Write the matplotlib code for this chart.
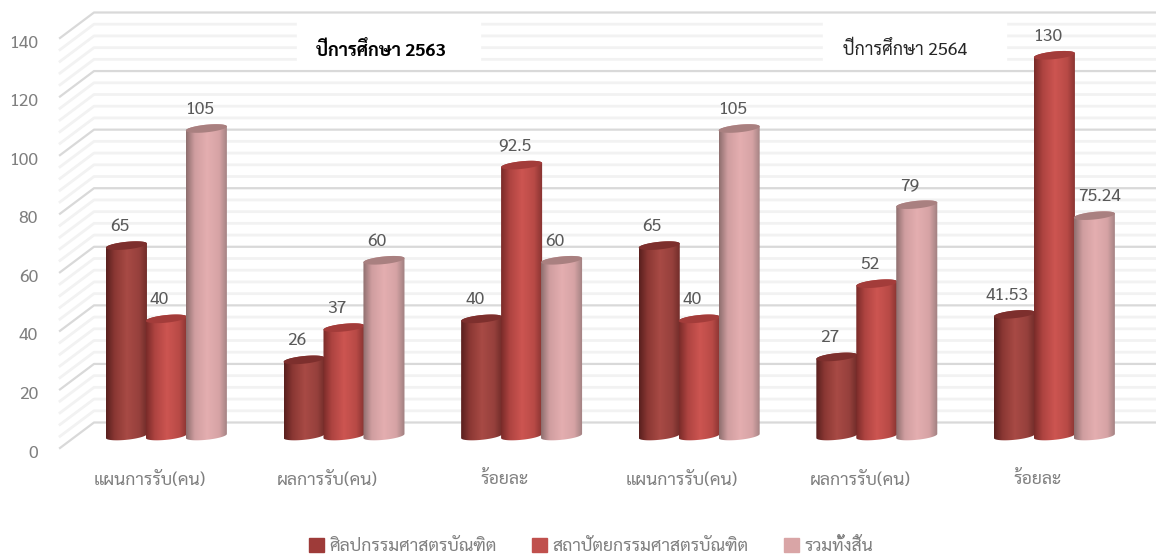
import numpy as np
import matplotlib
matplotlib.use('Agg')
import matplotlib.pyplot as plt
from matplotlib.colors import LinearSegmentedColormap
from matplotlib.lines import Line2D
from matplotlib.patches import Patch, PathPatch, Rectangle
from matplotlib.path import Path
from matplotlib.transforms import IdentityTransform

categories = ['แผนการรับ(คน)', 'ผลการรับ(คน)', 'ร้อยละ', 'แผนการรับ(คน)', 'ผลการรับ(คน)', 'ร้อยละ']
series_names = ['ศิลปกรรมศาสตรบัณฑิต', 'สถาปัตยกรรมศาสตรบัณฑิต', 'รวมทั้งสิ้น']
arts = [65, 26, 40, 65, 27, 41.53]
arch = [40, 37, 92.5, 40, 52, 130]
total = [105, 60, 60, 105, 79, 75.24]
yticks = [0, 20, 40, 60, 80, 100, 120, 140]

plt.rcParams['font.family'] = ['Sarabun', 'DejaVu Sans']

W, H = 1156, 554
fig = plt.figure(figsize=(W / 100, H / 100), dpi=100)
ax = fig.add_axes([77.6 / W, (H - 436) / H, 1065.6 / W, 410 / H])
ax.set_autoscale_on(False)
ax.set_xlim(-0.5, 5.5)
ax.set_ylim(0, 140)
ax.axis('off')
ax.set_zorder(5)
px = IdentityTransform()


def ypx(v):
    return ax.transData.transform((0, v))[1]


# walls
for v in np.arange(0, 141, 4):
    major = v % 20 == 0
    col = '#d9d9d9' if major else '#f2f2f2'
    lw = 1.6 if major else 2.0
    y = ypx(v)
    line = Line2D([60, 94, 1156], [y - 12, y + 13.5, y + 13.5], color=col, lw=lw, transform=px, zorder=2 if major else 1)
    fig.add_artist(line)

fig.add_artist(Rectangle((297, H - 66), 183, 48, color='white', transform=px, zorder=1.5))
fig.add_artist(Rectangle((823, H - 66), 183, 48, color='white', transform=px, zorder=1.5))
fig.text(381, H - 51, 'ปีการศึกษา 2563', transform=px, ha='center', va='center', fontsize=13, fontweight='bold', color='black', zorder=3)
fig.text(905, H - 50, 'ปีการศึกษา 2564', transform=px, ha='center', va='center', fontsize=12.8, color='#262626', zorder=3)

stops = [0, 0.2, 0.5, 0.8, 1]
colors = [
    (['#5a201e', '#8a3733', '#a84a45', '#96403c', '#6e2b28'], '#7d2f2d', '#9e3b39'),
    (['#7a2b29', '#ad4340', '#cd5551', '#b84a46', '#853230'], '#a33c3a', '#c0504d'),
    (['#8f6f6f', '#cf9d9f', '#e4aeb0', '#d6a3a5', '#a08080'], '#a98080', '#d9a5a6'),
]
width = 0.231
offsets = [-0.225, 0, 0.225]
ry = 1.3
tilt = 0.7
t = np.linspace(0, np.pi, 40)

for s, values in enumerate([arts, arch, total]):
    grad, top_col, _ = colors[s]
    cmap = LinearSegmentedColormap.from_list('c', list(zip(stops, grad)))
    for i, v in enumerate(values):
        x = i + offsets[s]
        dx = width / 2
        z = 5 + s
        # upper half of the top, lower half of the base
        xs_top = x + dx * np.cos(t)
        ys_top = v + ry * np.sin(t) + tilt * np.cos(t)
        xs_bot = x - dx * np.cos(t)
        ys_bot = -ry * np.sin(t) - tilt * np.cos(t)
        verts = np.column_stack([np.r_[xs_top, xs_bot], np.r_[ys_top, ys_bot]])
        body = Path(np.vstack([verts, verts[0]]), closed=True)
        im = ax.imshow(np.linspace(0, 1, 64).reshape(1, -1), cmap=cmap, aspect='auto',
                       extent=[x - dx, x + dx, -5, v + 5], zorder=z, interpolation='bilinear')
        im.set_clip_box(fig.bbox)
        im.set_clip_path(body, ax.transData)
        # top cap
        a = np.linspace(0, 2 * np.pi, 80)
        cap = np.column_stack([x + dx * np.cos(a), v + ry * np.sin(a) + tilt * np.cos(a)])
        ax.add_patch(PathPatch(Path(cap, closed=True), fc=top_col, ec='none', zorder=z + 0.5, clip_on=False))

for s, values in enumerate([arts, arch, total]):
    for i, v in enumerate(values):
        nudge = -7
        if v == 75.24:
            nudge = 5
        ax.annotate(f'{v:g}', (i + offsets[s], v), xytext=(nudge, 19), textcoords='offset pixels',
                    ha='center', va='center', fontsize=12.7, color='#595959', zorder=20, annotation_clip=False)

for v in yticks:
    ax.annotate(str(v), (0, v), xycoords=('axes fraction', 'data'), xytext=(38 - 77.6, -17),
                textcoords='offset pixels', ha='right', va='center', fontsize=12.7, color='#7f7f7f', annotation_clip=False)
for i, c in enumerate(categories):
    ax.annotate(c, (i, 0), xytext=(-17, -44), textcoords='offset pixels', ha='center', va='center',
                fontsize=12.7, color='#7f7f7f', annotation_clip=False)

handles = [Patch(color=c[2]) for c in colors]
fig.legend(handles, series_names, loc='lower center', bbox_to_anchor=(591 / W, -0.03), ncol=3, frameon=False,
           fontsize=12.7, labelcolor='#7f7f7f', handlelength=0.85, handleheight=0.85, handletextpad=0.3, columnspacing=2)

fig.savefig('out.png', dpi=100)
